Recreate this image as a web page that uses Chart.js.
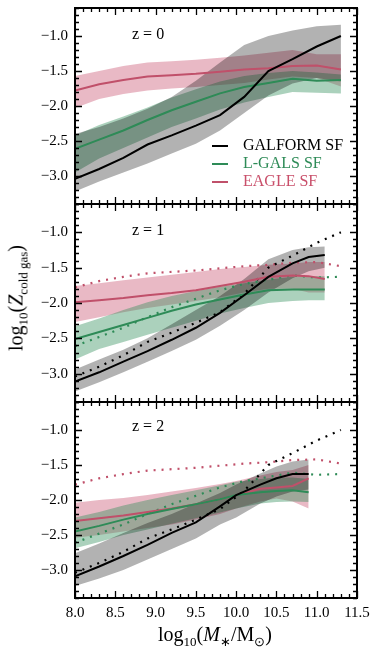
<!DOCTYPE html>
<html>
  <head>
    <title>Cold gas metallicity</title>
    <script src="https://cdn.jsdelivr.net/npm/chart.js"></script>
    <style>
      body {
        margin: 0;
        background: #fff;
      }
      #fig {
        position: relative;
        width: 374px;
        height: 649px;
        font-family: "Liberation Serif", serif;
      }
      canvas {
        position: absolute;
        left: 0;
      }
      .lab {
        position: absolute;
        font-size: 16px;
        white-space: nowrap;
        line-height: 1;
      }
      .legend {
        position: absolute;
        left: 212px;
        font-size: 16px;
        white-space: nowrap;
        line-height: 18px;
      }
      .legend span.swatch {
        display: inline-block;
        width: 16px;
        height: 2px;
        vertical-align: middle;
        margin-right: 15px;
      }
      .axt {
        position: absolute;
        font-size: 20px;
        white-space: nowrap;
        transform: translate(-50%, -50%);
      }
      sub {
        font-size: 13px;
      }
    </style>
  </head>

  <body>
    <div id="fig">
      <canvas id="p0" width="374" height="206" style="top: 0px"></canvas>
      <canvas id="p1" width="374" height="206" style="top: 200px"></canvas>
      <canvas id="p2" width="374" height="251" style="top: 398px"></canvas>

      <div class="lab" style="left: 132px; top: 26px">z = 0</div>
      <div class="lab" style="left: 132px; top: 222px">z = 1</div>
      <div class="lab" style="left: 132px; top: 418px">z = 2</div>

      <div class="legend" style="top: 136px">
        <div style="color: #000"><span class="swatch" style="background: #000"></span>GALFORM SF</div>
        <div style="color: #2e8b57"><span class="swatch" style="background: #2e8b57"></span>L-GALS SF</div>
        <div style="color: #c94f6a"><span class="swatch" style="background: #c0506a"></span>EAGLE SF</div>
      </div>

      <div class="axt" style="left: 18px; top: 298px; transform: translate(-50%, -50%) rotate(-90deg)">
        log<sub>10</sub>(<i>Z</i><sub>cold gas</sub>)
      </div>
      <div class="axt" style="left: 215px; top: 636px">
        log<sub>10</sub>(<i>M</i><sub>∗</sub>/M<sub>⊙</sub>)
      </div>
    </div>

    <script>
      // stellar mass bins (log10 Msun) per redshift
      const mass0 = [8.0, 8.3, 8.6, 8.9, 9.2, 9.5, 9.8, 10.1, 10.4, 10.7, 11.0, 11.3];
      const mass1 = [8.0, 8.3, 8.6, 8.9, 9.2, 9.5, 9.8, 10.1, 10.4, 10.7, 10.9, 11.1];
      const mass2 = [8.0, 8.3, 8.6, 8.9, 9.2, 9.5, 9.8, 10.0, 10.3, 10.5, 10.7, 10.9];

      // z = 0
      const galform0 = [-3.04, -2.9, -2.74, -2.55, -2.42, -2.28, -2.13, -1.87, -1.5, -1.33, -1.15, -1.0];
      const galform0Lo = [-3.22, -3.08, -2.95, -2.82, -2.68, -2.54, -2.35, -2.1, -1.85, -1.68, -1.6, -1.65];
      const galform0Hi = [-2.4, -2.3, -2.18, -2.04, -1.87, -1.64, -1.38, -1.13, -1.0, -0.92, -0.86, -0.84];
      const lgals0 = [-2.61, -2.48, -2.35, -2.2, -2.06, -1.94, -1.82, -1.73, -1.67, -1.61, -1.64, -1.63];
      const lgals0Lo = [-2.95, -2.75, -2.6, -2.45, -2.3, -2.18, -2.05, -1.95, -1.87, -1.8, -1.81, -1.82];
      const lgals0Hi = [-2.42, -2.27, -2.15, -2.02, -1.88, -1.76, -1.65, -1.57, -1.53, -1.5, -1.52, -1.55];
      const eagle0 = [-1.78, -1.69, -1.63, -1.58, -1.56, -1.54, -1.51, -1.48, -1.46, -1.43, -1.42, -1.48];
      const eagle0Lo = [-2.03, -1.9, -1.83, -1.78, -1.75, -1.73, -1.7, -1.67, -1.62, -1.58, -1.6, -1.72];
      const eagle0Hi = [-1.57, -1.5, -1.43, -1.38, -1.36, -1.34, -1.31, -1.28, -1.24, -1.2, -1.26, -1.26];

      // z = 1
      const galform1 = [-3.11, -2.98, -2.83, -2.68, -2.52, -2.35, -2.14, -1.89, -1.63, -1.44, -1.35, -1.32];
      const galform1Lo = [-3.25, -3.12, -2.98, -2.83, -2.68, -2.52, -2.32, -2.1, -1.85, -1.65, -1.55, -1.5];
      const galform1Hi = [-2.94, -2.8, -2.66, -2.5, -2.3, -2.1, -1.9, -1.66, -1.38, -1.25, -1.21, -1.2];
      const lgals1 = [-2.51, -2.41, -2.31, -2.21, -2.11, -2.02, -1.95, -1.88, -1.82, -1.81, -1.81, -1.81];
      const lgals1Lo = [-2.8, -2.65, -2.55, -2.45, -2.35, -2.25, -2.15, -2.07, -2.0, -1.97, -1.96, -1.96];
      const lgals1Hi = [-2.33, -2.22, -2.1, -1.99, -1.9, -1.83, -1.77, -1.72, -1.67, -1.63, -1.62, -1.62];
      const eagle1 = [-1.99, -1.96, -1.93, -1.89, -1.86, -1.82, -1.76, -1.7, -1.63, -1.61, -1.62, -1.66];
      const eagle1Lo = [-2.27, -2.2, -2.13, -2.07, -2.02, -1.97, -1.92, -1.85, -1.8, -1.8, -1.85, -1.85];
      const eagle1Hi = [-1.76, -1.72, -1.68, -1.64, -1.6, -1.56, -1.52, -1.49, -1.46, -1.44, -1.42, -1.42];

      // z = 2
      const galform2 = [-3.09, -2.95, -2.8, -2.64, -2.47, -2.32, -2.09, -1.93, -1.78, -1.69, -1.63, -1.63];
      const galform2Lo = [-3.23, -3.12, -3.0, -2.85, -2.7, -2.55, -2.35, -2.25, -2.05, -1.95, -1.88, -1.85];
      const galform2Hi = [-2.76, -2.62, -2.47, -2.33, -2.2, -2.05, -1.9, -1.78, -1.62, -1.52, -1.45, -1.42];
      const lgals2 = [-2.45, -2.37, -2.28, -2.2, -2.13, -2.06, -1.99, -1.93, -1.89, -1.87, -1.86, -1.89];
      const lgals2Lo = [-2.69, -2.6, -2.5, -2.42, -2.34, -2.26, -2.18, -2.12, -2.05, -2.03, -2.02, -2.03];
      const lgals2Hi = [-2.25, -2.17, -2.08, -2.0, -1.93, -1.86, -1.79, -1.74, -1.7, -1.68, -1.68, -1.7];
      const eagle2 = [-2.3, -2.26, -2.22, -2.17, -2.12, -2.06, -1.99, -1.93, -1.84, -1.82, -1.8, -1.69];
      const eagle2Lo = [-2.54, -2.5, -2.45, -2.4, -2.35, -2.28, -2.2, -2.12, -2.02, -1.98, -2.02, -2.12];
      const eagle2Hi = [-2.04, -2.0, -1.97, -1.93, -1.88, -1.83, -1.77, -1.73, -1.65, -1.6, -1.57, -1.5];

      const xTicks = [8.0, 8.5, 9.0, 9.5, 10.0, 10.5, 11.0, 11.5];
      const yTicks = [-3.0, -2.5, -2.0, -1.5, -1.0];

      const BLACK = "#000000";
      const GREEN = "#2e8b57";
      const RED = "#c0506a";

      function pts(xs, ys) {
        return xs.map((x, i) => ({ x: x, y: ys[i] }));
      }

      function line(xs, ys, color, dotted) {
        return {
          data: pts(xs, ys),
          borderColor: color,
          borderWidth: dotted ? 2.2 : 2,
          borderDash: dotted ? [2, 6] : [],
          pointRadius: 0,
          tension: 0,
          fill: false,
        };
      }

      function band(xs, lo, hi, color) {
        return [
          { data: pts(xs, hi), borderWidth: 0, pointRadius: 0, fill: "+1", backgroundColor: color },
          { data: pts(xs, lo), borderWidth: 0, pointRadius: 0, fill: false },
        ];
      }

      // z = 0 medians repeated as dotted guides in the lower panels
      function zeroDotted() {
        return [
          line(mass0, galform0, BLACK, true),
          line(mass0, lgals0, GREEN, true),
          line(mass0, eagle0, RED, true),
        ];
      }

      // inward ticks on all four sides plus the box
      const frameTicks = {
        id: "frameTicks",
        afterDatasetsDraw(chart) {
          const { ctx, chartArea: a, scales } = chart;
          const x = scales.x, y = scales.y;
          ctx.save();
          ctx.strokeStyle = "#000";
          ctx.lineWidth = 1.3;
          ctx.beginPath();
          for (let i = 0; i <= 35; i++) {
            const px = Math.round(x.getPixelForValue(8 + i * 0.1)) + 0.5;
            const len = i % 5 === 0 ? 7 : 4;
            ctx.moveTo(px, a.bottom); ctx.lineTo(px, a.bottom - len);
            ctx.moveTo(px, a.top); ctx.lineTo(px, a.top + len);
          }
          for (let i = 0; i <= 28; i++) {
            const v = -3.4 + i * 0.1;
            const py = Math.round(y.getPixelForValue(v)) + 0.5;
            const len = Math.round(v * 10) % 5 === 0 ? 7 : 4;
            ctx.moveTo(a.left, py); ctx.lineTo(a.left + len, py);
            ctx.moveTo(a.right, py); ctx.lineTo(a.right - len, py);
          }
          ctx.stroke();
          ctx.lineWidth = 2;
          ctx.strokeRect(a.left, a.top, a.right - a.left, a.bottom - a.top);
          ctx.restore();
        },
      };

      const tickFont = { family: "'Liberation Serif', serif", size: 15 };

      function makePanel(id, datasets, padTop, padBottom, showX) {
        return new Chart(document.getElementById(id), {
          type: "line",
          data: { datasets: datasets },
          options: {
            responsive: false,
            animation: false,
            devicePixelRatio: 1,
            layout: { padding: { left: 0, right: 17, top: padTop, bottom: padBottom } },
            plugins: { legend: { display: false }, tooltip: { enabled: false } },
            scales: {
              x: {
                type: "linear",
                min: 8.0,
                max: 11.5,
                display: showX,
                grid: { display: false, drawTicks: false },
                border: { display: false },
                afterBuildTicks: (s) => { s.ticks = xTicks.map((v) => ({ value: v })); },
                afterFit: (s) => {
                  s.paddingLeft = 0;
                  s.paddingRight = 0;
                  if (showX) s.height = 51;
                },
                ticks: {
                  color: "#000",
                  font: tickFont,
                  padding: 6,
                  maxRotation: 0,
                  callback: (v) => v.toFixed(1),
                },
              },
              y: {
                min: -3.4,
                max: -0.6,
                grid: { display: false, drawTicks: false },
                border: { display: false },
                afterBuildTicks: (s) => { s.ticks = yTicks.map((v) => ({ value: v })); },
                afterFit: (s) => {
                  s.width = 75;
                  s.paddingTop = 0;
                  s.paddingBottom = 0;
                },
                ticks: {
                  color: "#000",
                  font: tickFont,
                  padding: 7,
                  callback: (v) => v.toFixed(1).replace("-", "\u2212"),
                },
              },
            },
          },
          plugins: [frameTicks],
        });
      }

      makePanel("p0", [
        line(mass0, galform0, BLACK, false),
        line(mass0, lgals0, GREEN, false),
        line(mass0, eagle0, RED, false),
        ...band(mass0, galform0Lo, galform0Hi, "rgba(0,0,0,0.3)"),
        ...band(mass0, lgals0Lo, lgals0Hi, "rgba(46,139,87,0.4)"),
        ...band(mass0, eagle0Lo, eagle0Hi, "rgba(200,80,110,0.4)"),
      ], 8, 2, false);

      makePanel("p1", [
        line(mass1, galform1, BLACK, false),
        line(mass1, lgals1, GREEN, false),
        line(mass1, eagle1, RED, false),
        ...zeroDotted(),
        ...band(mass1, galform1Lo, galform1Hi, "rgba(0,0,0,0.3)"),
        ...band(mass1, lgals1Lo, lgals1Hi, "rgba(46,139,87,0.4)"),
        ...band(mass1, eagle1Lo, eagle1Hi, "rgba(200,80,110,0.4)"),
      ], 4, 4, false);

      makePanel("p2", [
        line(mass2, galform2, BLACK, false),
        line(mass2, lgals2, GREEN, false),
        line(mass2, eagle2, RED, false),
        ...zeroDotted(),
        ...band(mass2, galform2Lo, galform2Hi, "rgba(0,0,0,0.3)"),
        ...band(mass2, lgals2Lo, lgals2Hi, "rgba(46,139,87,0.4)"),
        ...band(mass2, eagle2Lo, eagle2Hi, "rgba(200,80,110,0.4)"),
      ], 4, 0, true);
    </script>
  </body>
</html>
